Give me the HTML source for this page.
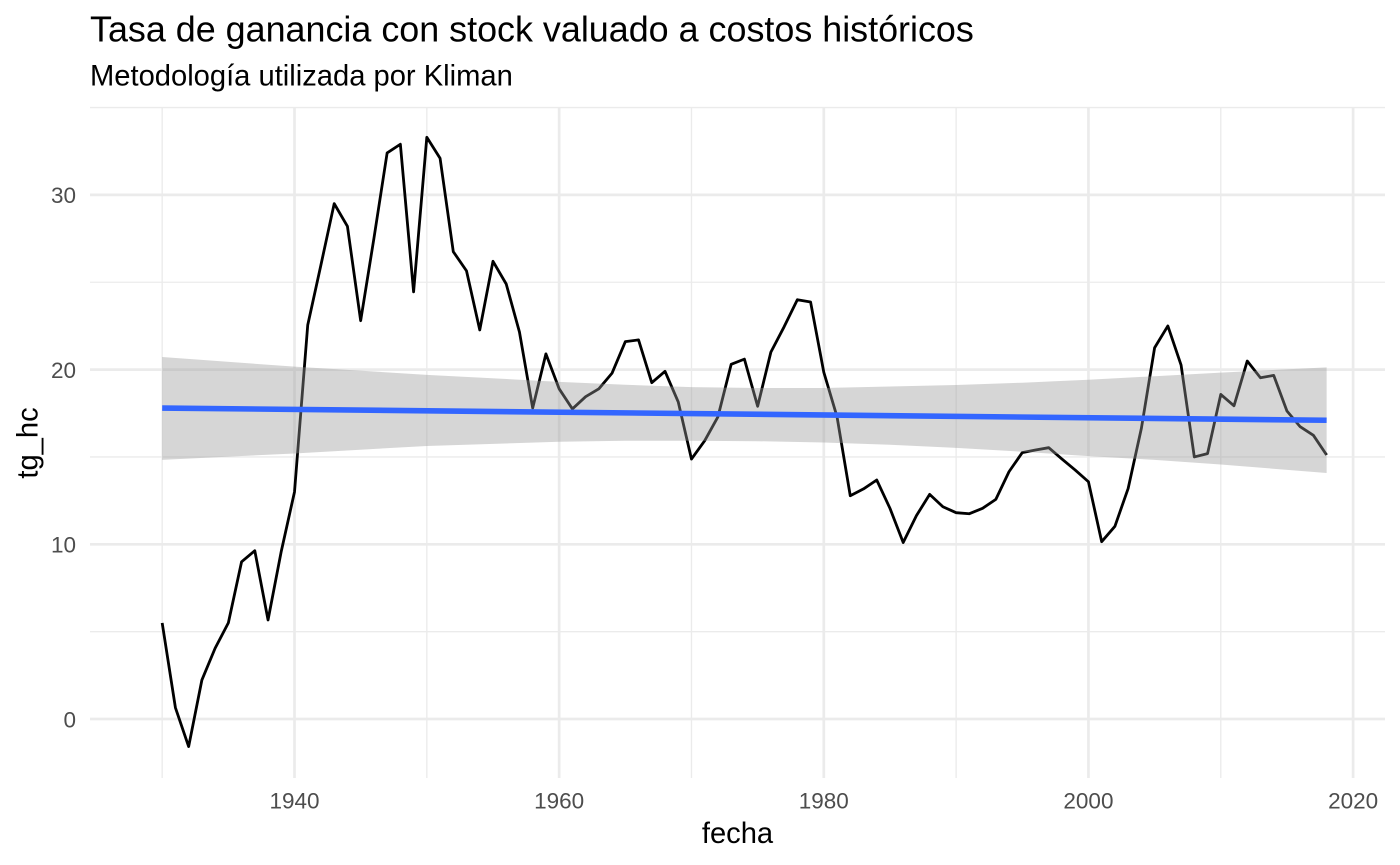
<!DOCTYPE html>
<html lang="es">
<head>
<meta charset="utf-8">
<title>Tasa de ganancia con stock valuado a costos históricos</title>
<style>
html,body{margin:0;padding:0;background:#fff;width:1400px;height:865px;overflow:hidden}
svg{display:block;font-family:"Liberation Sans",Arial,sans-serif}
</style>
</head>
<body>
<svg id="chart" width="1400" height="865" viewBox="0 0 1400 865" xmlns="http://www.w3.org/2000/svg">
  <rect x="0" y="0" width="1400" height="865" fill="#ffffff"/>
  <text x="90" y="41.5" font-size="35.9" fill="#000000">Tasa de ganancia con stock valuado a costos históricos</text>
  <text x="90" y="85.3" font-size="29.15" fill="#000000">Metodología utilizada por Kliman</text>
  <g id="grid"></g>
  <g id="marks"></g>
  <g id="ticks"></g>
  <text x="737.5" y="843" font-size="29.15" text-anchor="middle" fill="#000000">fecha</text>
  <text transform="translate(37.5 443) rotate(-90)" font-size="29.15" text-anchor="middle" fill="#000000">tg_hc</text>
</svg>
<script>
const years = [1930,1931,1932,1933,1934,1935,1936,1937,1938,1939,1940,1941,1942,1943,1944,1945,1946,1947,1948,1949,1950,1951,1952,1953,1954,1955,1956,1957,1958,1959,1960,1961,1962,1963,1964,1965,1966,1967,1968,1969,1970,1971,1972,1973,1974,1975,1976,1977,1978,1979,1980,1981,1982,1983,1984,1985,1986,1987,1988,1989,1990,1991,1992,1993,1994,1995,1996,1997,1998,1999,2000,2001,2002,2003,2004,2005,2006,2007,2008,2009,2010,2011,2012,2013,2014,2015,2016,2017,2018];
const tgHc = [5.5,0.65,-1.58,2.23,4.05,5.5,9.0,9.63,5.67,9.6,13.0,22.55,26.0,29.5,28.2,22.8,27.5,32.4,32.9,24.45,33.3,32.1,26.75,25.65,22.27,26.2,24.9,22.15,17.8,20.9,18.9,17.75,18.45,18.9,19.8,21.6,21.7,19.25,19.9,18.15,14.88,15.93,17.3,20.3,20.6,17.9,21.0,22.45,24.0,23.87,19.85,17.3,12.78,13.17,13.68,12.06,10.1,11.64,12.86,12.15,11.81,11.75,12.06,12.57,14.16,15.25,15.4,15.53,14.88,14.25,13.58,10.15,11.03,13.2,16.64,21.25,22.5,20.26,15.0,15.19,18.58,17.93,20.49,19.53,19.67,17.63,16.73,16.24,15.11];
const trendYears = [1930,2018];
const trendValues = [17.8,17.1];
const bandYears = [1930,1940,1950,1960,1965,1970,1975,1980,1985,1990,1995,2000,2005,2010,2018];
const bandUpper = [20.72,20.17,19.7,19.3,19.13,19.0,18.95,18.95,19.03,19.12,19.25,19.42,19.62,19.83,20.13];
const bandLower = [14.83,15.2,15.63,15.87,15.93,15.93,15.9,15.83,15.7,15.52,15.3,15.05,14.83,14.57,14.08];
const xMajorTicks = [1940,1960,1980,2000,2020];
const xMinorTicks = [1930,1950,1970,1990,2010];
const yMajorTicks = [0,10,20,30];
const yMinorTicks = [5,15,25,35];

const PANEL = {left:90,right:1385,top:107,bottom:778};
const xScale = v => 294.5 + (v - 1940) * 13.2325;
const yScale = v => 719 - v * 17.47;
const NS = 'http://www.w3.org/2000/svg';
const gridG = document.getElementById('grid');
const marksG = document.getElementById('marks');
const ticksG = document.getElementById('ticks');

function make(tag, parent, attrs){
  const el = document.createElementNS(NS, tag);
  for (const k in attrs) el.setAttribute(k, attrs[k]);
  parent.appendChild(el);
  return el;
}

yMinorTicks.forEach(t => {
  const el = make('line', gridG, {x1:PANEL.left,x2:PANEL.right,y1:yScale(t),y2:yScale(t),stroke:'#ebebeb','stroke-width':1.35});
  
  
});
xMinorTicks.forEach(t => {
  const el = make('line', gridG, {x1:xScale(t),x2:xScale(t),y1:PANEL.top,y2:PANEL.bottom,stroke:'#ebebeb','stroke-width':1.35});
  
  
});
yMajorTicks.forEach(t => {
  const el = make('line', gridG, {x1:PANEL.left,x2:PANEL.right,y1:yScale(t),y2:yScale(t),stroke:'#ebebeb','stroke-width':2.7});
  
  
});
xMajorTicks.forEach(t => {
  const el = make('line', gridG, {x1:xScale(t),x2:xScale(t),y1:PANEL.top,y2:PANEL.bottom,stroke:'#ebebeb','stroke-width':2.7});
  
  
});

const seriesPts = years.map((y, i) => xScale(y).toFixed(2) + ',' + yScale(tgHc[i]).toFixed(2)).join(' ');
const seriesLine = make('polyline', marksG, {points:seriesPts,fill:'none',stroke:'#000000','stroke-width':2.8,'stroke-linejoin':'round'});



const upperPts = bandYears.map((y, i) => xScale(y).toFixed(2) + ',' + yScale(bandUpper[i]).toFixed(2));
const lowerPts = bandYears.map((y, i) => xScale(y).toFixed(2) + ',' + yScale(bandLower[i]).toFixed(2)).reverse();
const band = make('polygon', marksG, {points:upperPts.concat(lowerPts).join(' '),fill:'#999999','fill-opacity':0.4,stroke:'none'});



const trendPts = trendYears.map((y, i) => xScale(y).toFixed(2) + ',' + yScale(trendValues[i]).toFixed(2)).join(' ');
const trend = make('polyline', marksG, {points:trendPts,fill:'none',stroke:'#3366FF','stroke-width':5.6});



xMajorTicks.forEach(t => {
  const el = make('text', ticksG, {x:xScale(t),y:808.3,'font-size':22.5,'text-anchor':'middle',fill:'#4d4d4d'});
  el.textContent = String(t);
  
  
});
yMajorTicks.forEach(t => {
  const el = make('text', ticksG, {x:76,y:yScale(t)+8.3,'font-size':22.5,'text-anchor':'end',fill:'#4d4d4d'});
  el.textContent = String(t);
  
  
});
</script>
</body>
</html>
